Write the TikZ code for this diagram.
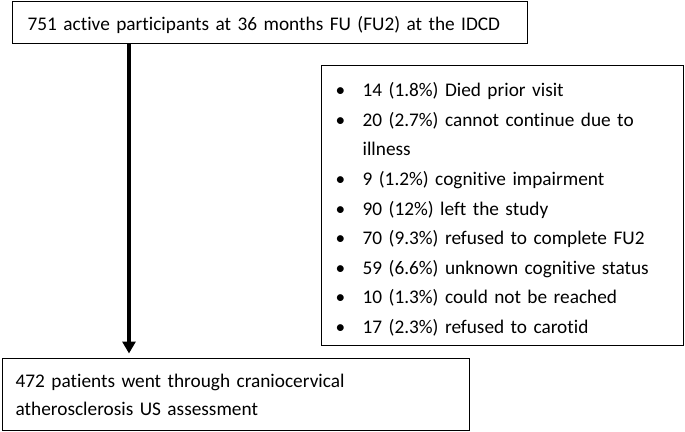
\documentclass[tikz,border=0pt]{standalone}
\usepackage{fontspec}
\setmainfont{Carlito}[Ligatures=NoCommon]
\usetikzlibrary{arrows.meta}
\newcommand\bitem[1]{\makebox[28pt][l]{\hspace{1pt}\textbullet}#1}
\begin{document}
\begin{tikzpicture}[x=1pt, y=-1pt,
  box/.style={draw, line width=1.3pt, inner ysep=0pt, align=left, anchor=north west},
  flow/.style={line width=3.5pt, -{Triangle[length=12pt, width=13pt]}, shorten >=4pt}]
  \useasboundingbox (0,0) rectangle (685,431);
  % participants at FU2
  \node[box, inner xsep=15pt, text width=485pt, text height=28.5pt, text depth=13.5pt,
    font=\fontsize{19.3}{24}\selectfont] (fu) at (12,1)
    {751 active participants at 36 months FU (FU2) at the IDCD};
  % exclusions
  \node[box, inner xsep=13pt, text width=336pt, text height=31pt, text depth=249pt,
    font=\fontsize{19.3}{29.6}\selectfont] (excl) at (321,65)
    {\bitem{14 (1.8\%) Died prior visit}\\
     \bitem{20 (2.7\%) cannot continue due to}\\
     \hspace*{28pt}illness\\
     \bitem{9 (1.2\%) cognitive impairment}\\
     \bitem{90 (12\%) left the study}\\
     \bitem{70 (9.3\%) refused to complete FU2}\\
     \bitem{59 (6.6\%) unknown cognitive status}\\
     \bitem{10 (1.3\%) could not be reached}\\
     \bitem{17 (2.3\%) refused to carotid}};
  % US assessment
  \node[box, inner xsep=13pt, text width=441pt, text height=29pt, text depth=43.5pt,
    font=\fontsize{19.3}{28}\selectfont] (us) at (2,357.5)
    {472 patients went through craniocervical\\atherosclerosis US assessment};
  \draw[flow] ([xshift=117pt]fu.south west) -- ([xshift=127pt]us.north west);
\end{tikzpicture}
\end{document}
